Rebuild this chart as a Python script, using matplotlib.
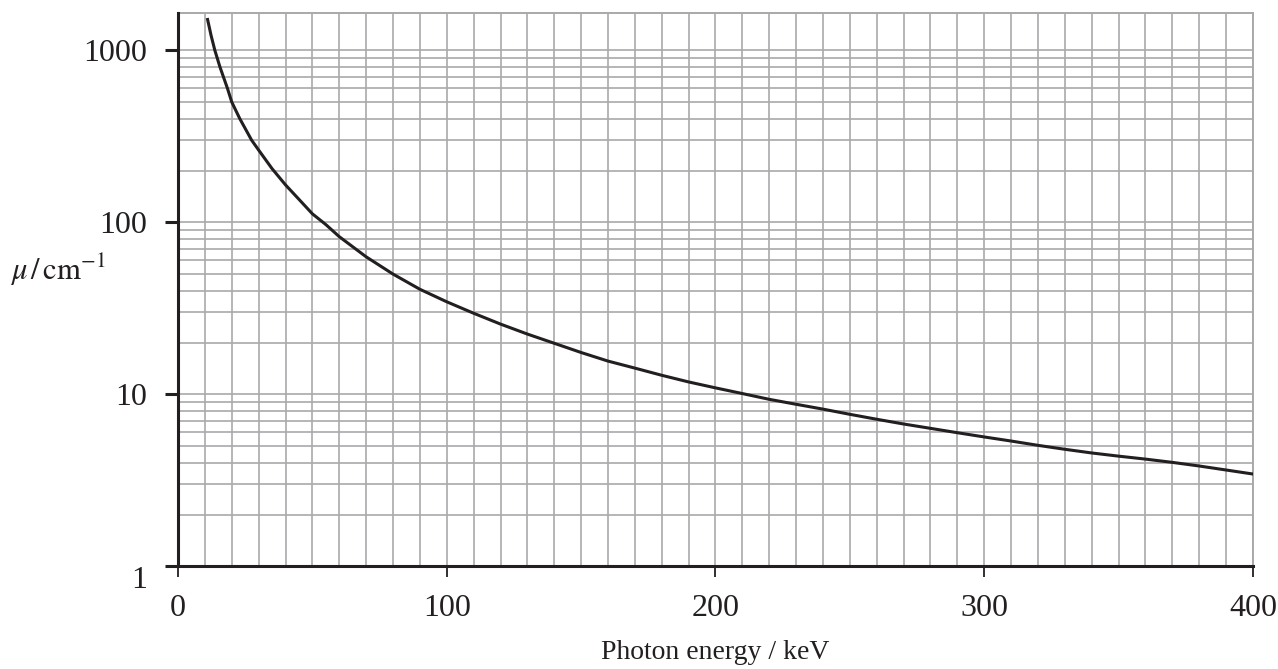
import numpy as np
import matplotlib
matplotlib.use("Agg")
import matplotlib.pyplot as plt
from matplotlib.ticker import FixedLocator, NullFormatter, MultipleLocator

# photon energy (keV) and attenuation coefficient (cm^-1)
energy = [11, 12.3, 13.7, 15.6, 18.4, 20, 23, 27.4, 30, 35, 40, 45, 50, 55, 60,
          70, 80, 90, 100, 110, 120, 130, 140, 150, 160, 170, 180, 190, 200,
          210, 220, 230, 240, 250, 260, 270, 280, 290, 300, 310, 320, 330, 340,
          350, 360, 370, 380, 390, 400]
mu = [1510, 1220, 1000, 800, 600, 500, 400, 300, 263, 205, 165, 136, 112, 97,
      82.5, 63, 50, 40.8, 34.5, 29.6, 25.6, 22.4, 19.8, 17.5, 15.6, 14.2, 12.9,
      11.8, 10.9, 10.1, 9.35, 8.75, 8.2, 7.65, 7.16, 6.72, 6.34, 5.98, 5.65,
      5.35, 5.05, 4.79, 4.56, 4.37, 4.2, 4.02, 3.83, 3.63, 3.44]

x_ticks = [0, 100, 200, 300, 400]
y_ticks = [1, 10, 100, 1000]
y_tick_labels = ["1", "10", "100", "1000"]

GRID = "#a9a9ac"
INK = "#231f20"

plt.rcParams.update({
    "font.family": ["Liberation Serif", "DejaVu Serif"],
    "mathtext.fontset": "stix",
    "font.size": 23,
})

fig = plt.figure(figsize=(12.78, 6.69), dpi=100)
ax = fig.add_axes([0.1393, 0.1535, 0.8411, 0.8271])

ax.set_yscale("log")
ax.set_xlim(0, 400)
ax.set_ylim(1, 1648)

ax.xaxis.set_major_locator(FixedLocator(x_ticks))
ax.xaxis.set_minor_locator(MultipleLocator(10))
ax.yaxis.set_major_locator(FixedLocator(y_ticks))
ax.yaxis.set_major_formatter(plt.FixedFormatter(y_tick_labels))
ax.yaxis.set_minor_locator(FixedLocator(
    [m * 10 ** d for d in range(0, 3) for m in range(2, 10)]))
ax.yaxis.set_minor_formatter(NullFormatter())

ax.grid(True, which="both", color=GRID, linewidth=1.2)
ax.set_axisbelow(True)

ax.plot(energy, mu, color=INK, linewidth=2.2, zorder=3)

for side in ("left", "bottom"):
    ax.spines[side].set_color(INK)
    ax.spines[side].set_linewidth(2.2)
    ax.spines[side].set_zorder(4)
for side in ("top", "right"):
    ax.spines[side].set_color(GRID)
    ax.spines[side].set_linewidth(1.4)

ax.tick_params(axis="x", which="major", direction="out", length=8, width=1.3,
               color=INK, pad=12, labelsize=23, labelcolor=INK)
ax.tick_params(axis="y", which="major", direction="out", length=9.5, width=2.2,
               color=INK, pad=13, labelsize=23, labelcolor=INK)
ax.tick_params(which="minor", length=0)

# the "1" label sits a little below its tick in the original
ax.yaxis.get_major_ticks()[0].label1.set_va("top")

ax.set_xlabel("Photon energy / keV", fontsize=20, color=INK, labelpad=12)
ax.set_ylabel(r"$\mu\,/\,\mathrm{cm}^{-1}$", fontsize=22, color=INK,
              rotation=0, ha="center", va="center")
ax.yaxis.set_label_coords(-0.112, 0.535)

fig.savefig("out.png", dpi=100)
